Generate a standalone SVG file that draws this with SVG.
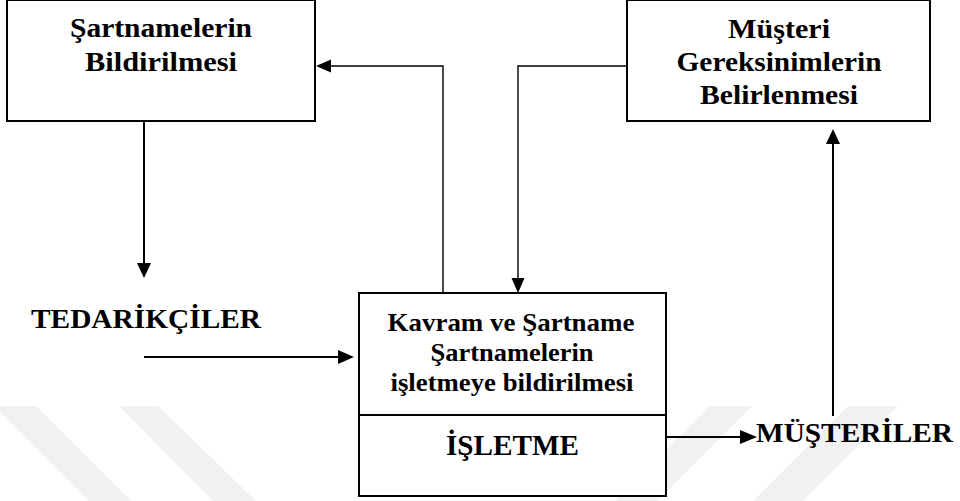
<svg xmlns="http://www.w3.org/2000/svg" width="960" height="501" viewBox="0 0 960 501">
<style>
.bg{fill:#ffffff}
.wm{fill:#f1f1f1}
.box{fill:#ffffff;stroke:#000000;stroke-width:2}
.t{font-family:"Liberation Serif","Times New Roman",serif;font-weight:bold;fill:#000000;text-anchor:middle}
.ts{text-anchor:start}
.thick{fill:none;stroke:#000000;stroke-width:2}
.thin{fill:none;stroke:#000000;stroke-width:1.4}
.head{fill:#000000}
</style>
<rect class="bg" x="0" y="0" width="960" height="501"/>
<g id="watermark">
<polygon class="wm" points="-6,406 36,406 131,501 89,501"/>
<polygon class="wm" points="119,406 158,406 256,501 213,501"/>
<polygon class="wm" points="710,406 752,406 657,501 615,501"/>
<polygon class="wm" points="848,406 898,406 803,501 753,501"/>
</g>
<g id="connectors">
<path class="thick" d="M144,121 V264"/>
<polygon class="head" points="137,263 151,263 144,278"/>
<path class="thin" d="M443,293 V66 H330"/>
<polygon class="head" points="331,59.5 331,72.5 316,66"/>
<path class="thin" d="M627,66 H518 V279"/>
<polygon class="head" points="511.5,278 524.5,278 518,293"/>
<path class="thick" d="M144,357 H340"/>
<polygon class="head" points="338,350 338,364 354,357"/>
<path class="thick" d="M666,437 H742"/>
<polygon class="head" points="740,430 740,444 757,437"/>
<path class="thick" d="M833,416 V143"/>
<polygon class="head" points="826,144 840,144 833,129"/>
</g>
<g id="n1">
<rect class="box" x="7" y="0" width="308" height="121"/>
<text class="t" x="161" y="37" font-size="28" textLength="182" lengthAdjust="spacingAndGlyphs">Şartnamelerin</text>
<text class="t" x="161" y="71" font-size="28" textLength="152" lengthAdjust="spacingAndGlyphs">Bildirilmesi</text>
</g>
<g id="n2">
<rect class="box" x="627" y="0" width="303" height="121"/>
<text class="t" x="779" y="37.5" font-size="28" textLength="102" lengthAdjust="spacingAndGlyphs">Müşteri</text>
<text class="t" x="779" y="70.5" font-size="28" textLength="205" lengthAdjust="spacingAndGlyphs">Gereksinimlerin</text>
<text class="t" x="779" y="104" font-size="28" textLength="158" lengthAdjust="spacingAndGlyphs">Belirlenmesi</text>
</g>
<g id="n3">
<rect class="box" x="359" y="293" width="307" height="203"/>
<line class="thick" x1="359" y1="415" x2="666" y2="415"/>
<text class="t" x="511" y="330.5" font-size="25" textLength="247" lengthAdjust="spacingAndGlyphs">Kavram ve Şartname</text>
<text class="t" x="512" y="360.5" font-size="25" textLength="163" lengthAdjust="spacingAndGlyphs">Şartnamelerin</text>
<text class="t" x="512" y="390.5" font-size="25" textLength="243" lengthAdjust="spacingAndGlyphs">işletmeye bildirilmesi</text>
<text class="t" x="512.5" y="454.5" font-size="29" textLength="133" lengthAdjust="spacingAndGlyphs">İŞLETME</text>
</g>
<g id="n4">
<text class="t ts" x="31" y="328" font-size="27" textLength="230" lengthAdjust="spacingAndGlyphs">TEDARİKÇİLER</text>
</g>
<g id="n5">
<text class="t ts" x="756" y="441.5" font-size="28" textLength="197" lengthAdjust="spacingAndGlyphs">MÜŞTERİLER</text>
</g>
</svg>
